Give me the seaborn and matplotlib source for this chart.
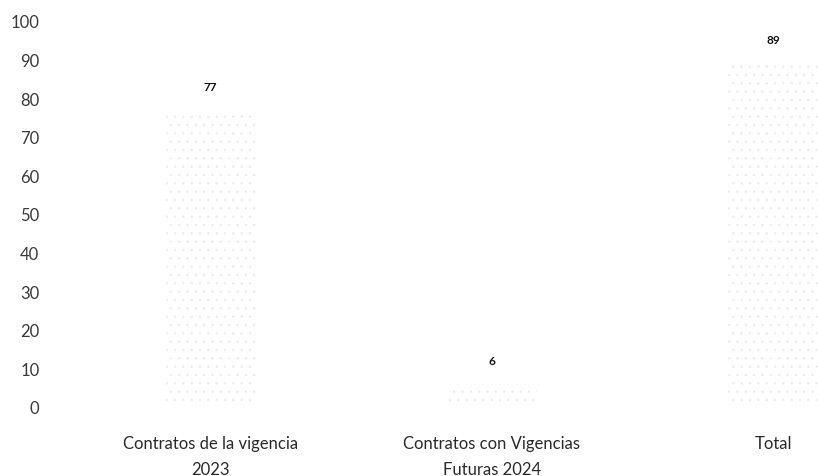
import matplotlib
matplotlib.use("Agg")
import matplotlib.pyplot as plt
import seaborn as sns
import pandas as pd

# datos
categorias = ["Contratos de la vigencia\n2023", "Contratos con Vigencias\nFuturas 2024", "Total"]
valores = [77, 6, 89]
yticks = list(range(0, 101, 10))

sns.set_theme(style="white")
plt.rcParams['font.family'] = ['Lato', 'DejaVu Sans']
plt.rcParams['hatch.linewidth'] = 0.6

df = pd.DataFrame({"categoria": categorias, "valor": valores})

fig = plt.figure(figsize=(8.18, 4.77), dpi=100)
ax = fig.add_axes([70 / 818, 1 - 408 / 477, 1 - 70 / 818, (408 - 22) / 477])

sns.barplot(data=df, x="categoria", y="valor", ax=ax, width=0.32,
            color="white", edgecolor="#ececec", linewidth=0, hatch="..")

for bar, v in zip(ax.patches, valores):
    ax.annotate(str(v), (bar.get_x() + bar.get_width() / 2, bar.get_height()),
                xytext=(0, 13), textcoords="offset points",
                ha="center", va="bottom", fontsize=8.5, fontweight="bold", color="#111111")

ax.set_xlim(-0.5, 2.16)
ax.set_ylim(0, 100)
ax.set_yticks(yticks)
ax.tick_params(axis="y", length=0, pad=22, labelsize=12, labelcolor="#3a3a3a")
ax.tick_params(axis="x", length=0, pad=20, labelsize=12, labelcolor="#2a2a2a")
for lbl in ax.get_xticklabels():
    lbl.set_linespacing(1.75)
ax.set_xlabel("")
ax.set_ylabel("")
sns.despine(ax=ax, left=True, bottom=True)

fig.savefig("out.png", dpi=100)
